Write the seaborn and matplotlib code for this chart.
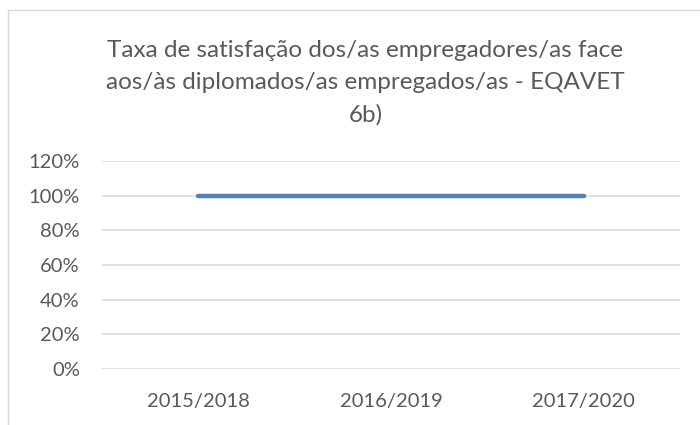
import pandas as pd
import matplotlib.pyplot as plt
import seaborn as sns
from matplotlib.patches import Rectangle
from matplotlib.ticker import FuncFormatter

# Excel-style single-series line chart (EQAVET 6b)
periods = ["2015/2018", "2016/2019", "2017/2020"]
taxa = [1.0, 1.0, 1.0]
y_ticks = [0, 0.2, 0.4, 0.6, 0.8, 1.0, 1.2]

title = ("Taxa de satisfação dos/as empregadores/as face\n"
         "aos/às diplomados/as empregados/as - EQAVET\n6b)")


def make_chart():
    df = pd.DataFrame({"Periodo": periods, "Taxa": taxa})

    sns.set_style("white")
    plt.rcParams["font.family"] = ["Lato", "DejaVu Sans"]
    text_col = "#595959"

    fig = plt.figure(figsize=(7, 4.25), dpi=100)
    ax = fig.add_axes([0.1457, 0.1318, 0.8257, 0.4894])

    sns.lineplot(data=df, x="Periodo", y="Taxa", ax=ax, sort=False,
                 color="#4F81BD", linewidth=3.2, solid_capstyle="round")

    ax.set_xlim(-0.5, len(periods) - 0.5)
    ax.set_ylim(0, 1.2)
    ax.set_yticks(y_ticks)
    ax.yaxis.set_major_formatter(FuncFormatter(lambda v, _: f"{v * 100:.0f}%"))
    ax.grid(axis="y", color="#D9D9D9", linewidth=1.1)
    ax.set_axisbelow(True)
    for s in ax.spines.values():
        s.set_visible(False)
    ax.tick_params(axis="both", length=0, labelsize=14.5, colors=text_col)
    ax.tick_params(axis="y", pad=16)
    ax.tick_params(axis="x", pad=17)
    ax.set_xlabel("")
    ax.set_ylabel("")

    fig.text(0.522, 0.907, title, ha="center", va="top", fontsize=17.5,
             color=text_col, linespacing=1.65)

    # light chart border
    fig.patches.append(Rectangle((8 / 700, -0.1), 1.2, 1 - 10 / 425 + 0.1,
                                 transform=fig.transFigure, fill=False,
                                 edgecolor="#D9D9D9", linewidth=1))

    fig.savefig("out.png", dpi=100)


if __name__ == "__main__":
    make_chart()
